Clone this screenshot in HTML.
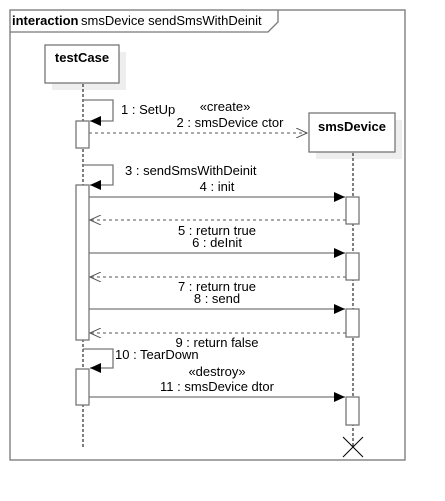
<!DOCTYPE html>
<html><head><style>
body{margin:0;background:#fff;}
svg{display:block;font-family:"Liberation Sans",Arial,sans-serif;font-size:13px;}
</style></head><body>
<svg width="445" height="501" viewBox="0 0 445 501">
<defs>
<marker id="f" markerWidth="12" markerHeight="10" refX="11" refY="5" orient="auto" markerUnits="userSpaceOnUse"><path d="M0,0 L11,5 L0,10 z" fill="#000"/></marker>
<marker id="o" markerWidth="12" markerHeight="10" refX="11" refY="5" orient="auto" markerUnits="userSpaceOnUse"><path d="M0,0 L11,5 L0,10" fill="none" stroke="#555" stroke-width="1"/></marker>
</defs>
<g fill="none" stroke="#777" stroke-width="1.3">
<rect x="10" y="10" width="395" height="450"/>
<path d="M10,32 H268 L278,22 V10"/>
</g>
<text x="12" y="25" font-weight="bold" font-size="13">interaction</text>
<text x="81" y="25" font-size="13">smsDevice sendSmsWithDeinit</text>
<!-- testCase -->
<rect x="52" y="52" width="74" height="38" fill="#eee"/>
<rect x="45" y="45" width="74" height="38" fill="#fff" stroke="#777" stroke-width="1.3"/>
<text x="82" y="62" text-anchor="middle" font-weight="bold" font-size="13">testCase</text>
<!-- smsDevice -->
<rect x="316" y="120" width="86" height="39" fill="#eee"/>
<rect x="309" y="113" width="86" height="39" fill="#fff" stroke="#777" stroke-width="1.3"/>
<text x="352" y="131" text-anchor="middle" font-weight="bold" font-size="13">smsDevice</text>
<!-- lifelines -->
<g stroke="#000" stroke-width="1" stroke-dasharray="3,2">
<line x1="83" y1="84" x2="83" y2="447"/>
<line x1="353" y1="153" x2="353" y2="447"/>
</g>
<!-- self loops -->
<g fill="none" stroke="#777" stroke-width="1.3">
<path d="M83,100 H113 V121 H90" marker-end="url(#f)"/>
<path d="M83,165 H113 V185 H90" marker-end="url(#f)"/>
<path d="M83,349 H113 V368 H90" marker-end="url(#f)"/>
</g>
<!-- activations -->
<g fill="#fff" stroke="#777" stroke-width="1.3">
<rect x="76" y="121" width="13" height="27"/>
<rect x="76" y="185" width="13" height="155"/>
<rect x="76" y="369" width="13" height="36"/>
<rect x="346" y="197" width="13" height="27"/>
<rect x="346" y="253" width="13" height="27"/>
<rect x="346" y="309" width="13" height="28"/>
<rect x="346" y="397" width="13" height="28"/>
</g>
<!-- messages -->
<g stroke="#777" stroke-width="1.3" fill="none">
<line x1="89" y1="133" x2="307" y2="133" stroke-dasharray="3,3" marker-end="url(#o)"/>
<line x1="89" y1="197" x2="345" y2="197" marker-end="url(#f)"/>
<line x1="346" y1="220" x2="90" y2="220" stroke-dasharray="3,3" marker-end="url(#o)"/>
<line x1="89" y1="253" x2="345" y2="253" marker-end="url(#f)"/>
<line x1="346" y1="277" x2="90" y2="277" stroke-dasharray="3,3" marker-end="url(#o)"/>
<line x1="89" y1="309" x2="345" y2="309" marker-end="url(#f)"/>
<line x1="346" y1="333" x2="90" y2="333" stroke-dasharray="3,3" marker-end="url(#o)"/>
<line x1="89" y1="397" x2="345" y2="397" marker-end="url(#f)"/>
</g>
<path d="M343,437 L363,457 M363,437 L343,457" stroke="#000" stroke-width="1"/>
<!-- labels -->
<text x="121" y="114">1 : SetUp</text>
<text x="225" y="111" text-anchor="middle">«create»</text>
<text x="230" y="127" text-anchor="middle">2 : smsDevice ctor</text>
<text x="125" y="175">3 : sendSmsWithDeinit</text>
<text x="217" y="191" text-anchor="middle">4 : init</text>
<text x="217" y="235" text-anchor="middle">5 : return true</text>
<text x="217" y="247" text-anchor="middle">6 : deInit</text>
<text x="217" y="291" text-anchor="middle">7 : return true</text>
<text x="217" y="303" text-anchor="middle">8 : send</text>
<text x="217" y="347" text-anchor="middle">9 : return false</text>
<text x="115" y="359">10 : TearDown</text>
<text x="217" y="376" text-anchor="middle">«destroy»</text>
<text x="217" y="391" text-anchor="middle">11 : smsDevice dtor</text>
</svg>
</body></html>
